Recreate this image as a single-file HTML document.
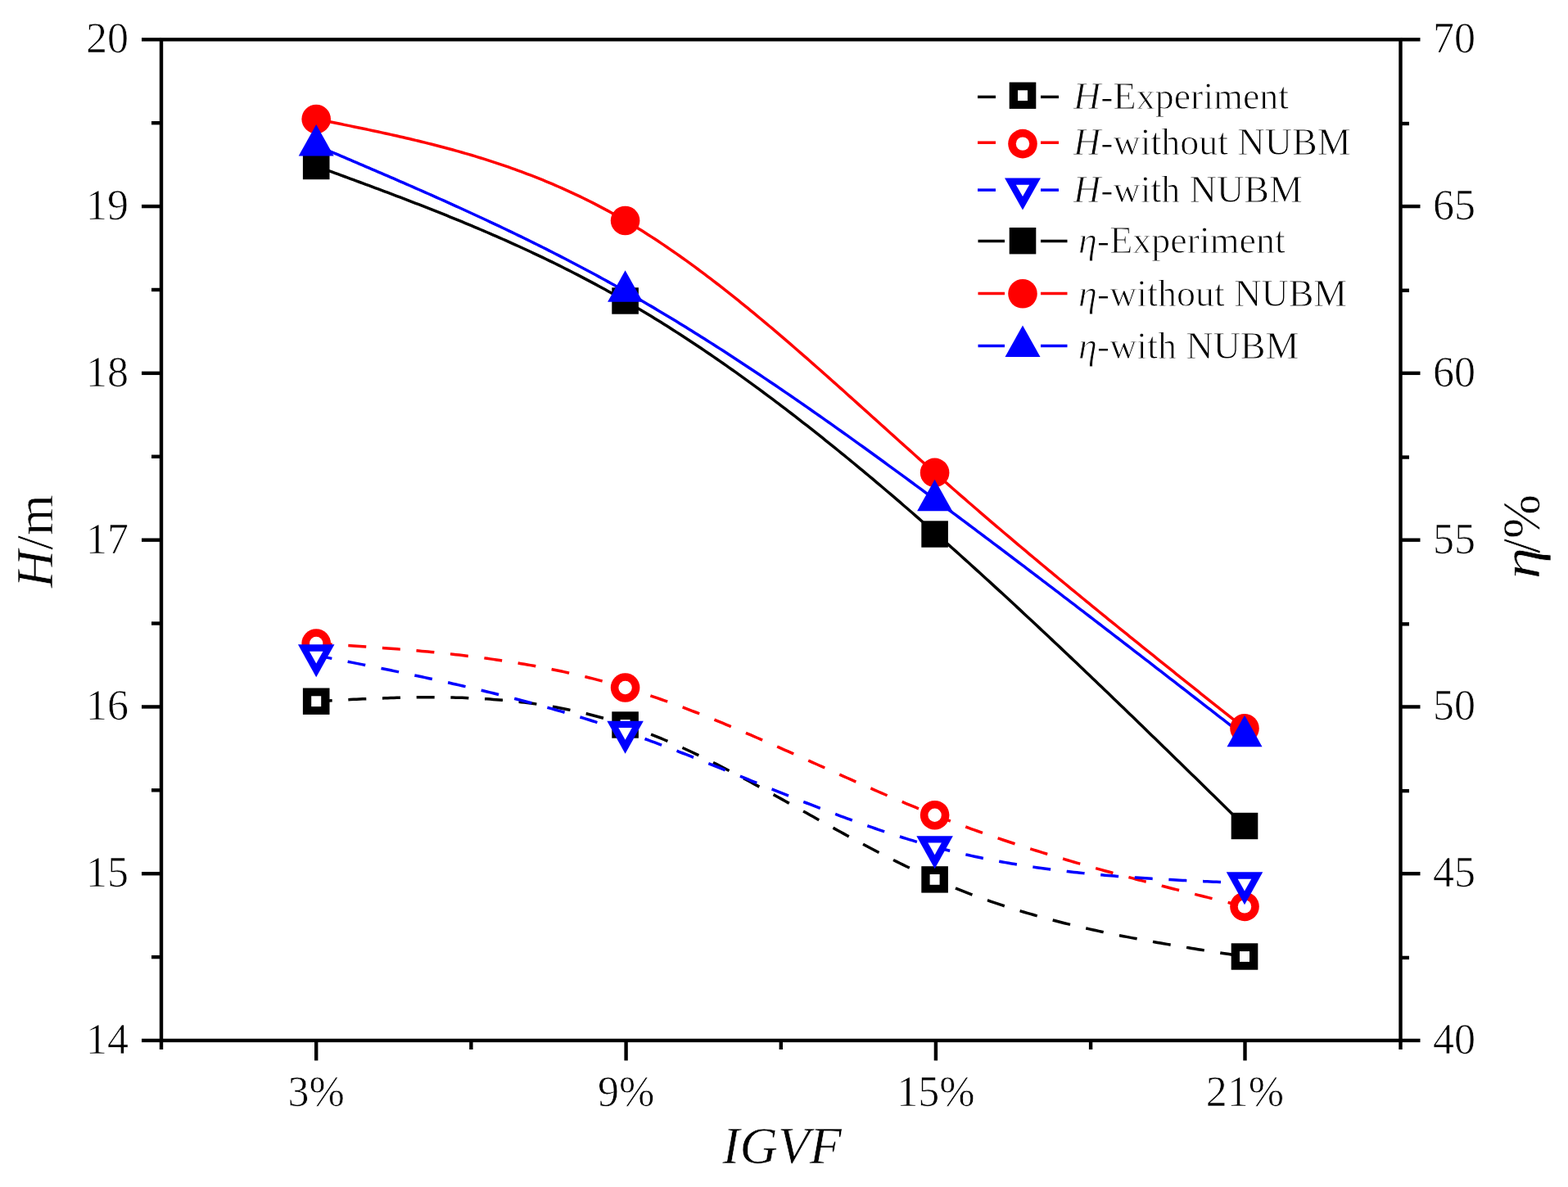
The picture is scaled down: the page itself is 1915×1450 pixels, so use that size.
<!DOCTYPE html><html><head><meta charset="utf-8"><style>html,body{margin:0;padding:0;background:#fff;}svg{display:block;}</style></head><body><svg width="1915" height="1450" viewBox="0 0 1915 1450">
<rect width="1915" height="1450" fill="#fff"/>
<polyline points="386.20,856.70 389.99,856.50 393.78,856.30 397.58,856.10 401.37,855.90 405.16,855.70 408.95,855.50 412.74,855.30 416.54,855.11 420.33,854.92 424.12,854.73 427.91,854.55 431.70,854.36 435.50,854.18 439.29,854.01 443.08,853.84 446.87,853.67 450.66,853.51 454.46,853.36 458.25,853.21 462.04,853.06 465.83,852.92 469.62,852.79 473.42,852.66 477.21,852.54 481.00,852.43 484.79,852.32 488.58,852.23 492.38,852.14 496.17,852.06 499.96,851.98 503.75,851.92 507.54,851.87 511.34,851.82 515.13,851.79 518.92,851.76 522.71,851.75 526.50,851.74 530.29,851.75 534.09,851.77 537.88,851.80 541.67,851.84 545.46,851.90 549.25,851.96 553.05,852.04 556.84,852.14 560.63,852.24 564.42,852.36 568.21,852.50 572.01,852.64 575.80,852.81 579.59,852.98 583.38,853.18 587.17,853.39 590.97,853.61 594.76,853.85 598.55,854.11 602.34,854.38 606.13,854.67 609.93,854.98 613.72,855.30 617.51,855.64 621.30,856.00 625.09,856.38 628.89,856.78 632.68,857.20 636.47,857.64 640.26,858.09 644.05,858.57 647.85,859.06 651.64,859.58 655.43,860.12 659.22,860.68 663.01,861.26 666.81,861.86 670.60,862.48 674.39,863.13 678.18,863.80 681.97,864.49 685.77,865.20 689.56,865.94 693.35,866.71 697.14,867.49 700.93,868.30 704.73,869.14 708.52,870.00 712.31,870.88 716.10,871.80 719.89,872.73 723.69,873.70 727.48,874.69 731.27,875.70 735.06,876.75 738.85,877.82 742.65,878.92 746.44,880.04 750.23,881.20 754.02,882.38 757.81,883.59 761.61,884.84 765.40,886.11 769.19,887.41 772.98,888.74 776.77,890.09 780.57,891.48 784.36,892.89 788.15,894.33 791.94,895.80 795.73,897.29 799.53,898.81 803.32,900.35 807.11,901.91 810.90,903.50 814.69,905.11 818.48,906.75 822.28,908.41 826.07,910.09 829.86,911.79 833.65,913.51 837.44,915.25 841.24,917.01 845.03,918.79 848.82,920.59 852.61,922.40 856.40,924.24 860.20,926.09 863.99,927.95 867.78,929.84 871.57,931.74 875.36,933.65 879.16,935.58 882.95,937.52 886.74,939.48 890.53,941.44 894.32,943.42 898.12,945.42 901.91,947.42 905.70,949.44 909.49,951.46 913.28,953.50 917.08,955.54 920.87,957.59 924.66,959.65 928.45,961.72 932.24,963.80 936.04,965.88 939.83,967.97 943.62,970.07 947.41,972.17 951.20,974.27 955.00,976.38 958.79,978.49 962.58,980.61 966.37,982.72 970.16,984.84 973.96,986.97 977.75,989.09 981.54,991.21 985.33,993.34 989.12,995.46 992.92,997.58 996.71,999.70 1000.50,1001.82 1004.29,1003.93 1008.08,1006.05 1011.88,1008.16 1015.67,1010.26 1019.46,1012.36 1023.25,1014.46 1027.04,1016.55 1030.84,1018.63 1034.63,1020.70 1038.42,1022.77 1042.21,1024.84 1046.00,1026.89 1049.80,1028.93 1053.59,1030.97 1057.38,1033.00 1061.17,1035.01 1064.96,1037.02 1068.76,1039.01 1072.55,1040.99 1076.34,1042.96 1080.13,1044.92 1083.92,1046.86 1087.72,1048.79 1091.51,1050.70 1095.30,1052.60 1099.09,1054.49 1102.88,1056.36 1106.67,1058.21 1110.47,1060.04 1114.26,1061.86 1118.05,1063.66 1121.84,1065.44 1125.63,1067.20 1129.43,1068.94 1133.22,1070.67 1137.01,1072.37 1140.80,1074.05 1144.59,1075.71 1148.39,1077.35 1152.18,1078.96 1155.97,1080.56 1159.76,1082.13 1163.55,1083.69 1167.35,1085.22 1171.14,1086.73 1174.93,1088.22 1178.72,1089.70 1182.51,1091.15 1186.31,1092.58 1190.10,1094.00 1193.89,1095.40 1197.68,1096.77 1201.47,1098.13 1205.27,1099.47 1209.06,1100.79 1212.85,1102.10 1216.64,1103.39 1220.43,1104.66 1224.23,1105.91 1228.02,1107.14 1231.81,1108.36 1235.60,1109.56 1239.39,1110.75 1243.19,1111.92 1246.98,1113.07 1250.77,1114.21 1254.56,1115.33 1258.35,1116.44 1262.15,1117.53 1265.94,1118.61 1269.73,1119.67 1273.52,1120.72 1277.31,1121.76 1281.11,1122.78 1284.90,1123.78 1288.69,1124.78 1292.48,1125.76 1296.27,1126.72 1300.07,1127.68 1303.86,1128.62 1307.65,1129.55 1311.44,1130.47 1315.23,1131.37 1319.03,1132.27 1322.82,1133.15 1326.61,1134.02 1330.40,1134.88 1334.19,1135.72 1337.99,1136.56 1341.78,1137.39 1345.57,1138.21 1349.36,1139.01 1353.15,1139.81 1356.95,1140.60 1360.74,1141.38 1364.53,1142.15 1368.32,1142.91 1372.11,1143.66 1375.91,1144.40 1379.70,1145.14 1383.49,1145.86 1387.28,1146.58 1391.07,1147.29 1394.86,1148.00 1398.66,1148.69 1402.45,1149.38 1406.24,1150.07 1410.03,1150.74 1413.82,1151.41 1417.62,1152.08 1421.41,1152.74 1425.20,1153.39 1428.99,1154.04 1432.78,1154.68 1436.58,1155.31 1440.37,1155.95 1444.16,1156.57 1447.95,1157.20 1451.74,1157.82 1455.54,1158.43 1459.33,1159.04 1463.12,1159.65 1466.91,1160.26 1470.70,1160.86 1474.50,1161.46 1478.29,1162.05 1482.08,1162.65 1485.87,1163.24 1489.66,1163.83 1493.46,1164.42 1497.25,1165.00 1501.04,1165.59 1504.83,1166.17 1508.62,1166.75 1512.42,1167.34 1516.21,1167.92 1520.00,1168.50" fill="none" stroke="#000000" stroke-width="3.5" stroke-dasharray="22 19.7" stroke-dashoffset="2.5"/>
<polyline points="386.20,786.00 389.99,786.24 393.78,786.48 397.58,786.73 401.37,786.97 405.16,787.21 408.95,787.46 412.74,787.70 416.54,787.95 420.33,788.20 424.12,788.45 427.91,788.70 431.70,788.95 435.50,789.21 439.29,789.46 443.08,789.72 446.87,789.99 450.66,790.25 454.46,790.52 458.25,790.80 462.04,791.07 465.83,791.35 469.62,791.64 473.42,791.92 477.21,792.22 481.00,792.51 484.79,792.81 488.58,793.12 492.38,793.43 496.17,793.74 499.96,794.07 503.75,794.39 507.54,794.72 511.34,795.06 515.13,795.41 518.92,795.76 522.71,796.11 526.50,796.47 530.29,796.84 534.09,797.22 537.88,797.60 541.67,798.00 545.46,798.39 549.25,798.80 553.05,799.21 556.84,799.64 560.63,800.07 564.42,800.51 568.21,800.95 572.01,801.41 575.80,801.87 579.59,802.35 583.38,802.83 587.17,803.32 590.97,803.83 594.76,804.34 598.55,804.86 602.34,805.39 606.13,805.94 609.93,806.49 613.72,807.05 617.51,807.63 621.30,808.22 625.09,808.81 628.89,809.42 632.68,810.04 636.47,810.68 640.26,811.32 644.05,811.98 647.85,812.65 651.64,813.33 655.43,814.02 659.22,814.73 663.01,815.45 666.81,816.19 670.60,816.93 674.39,817.70 678.18,818.47 681.97,819.26 685.77,820.06 689.56,820.88 693.35,821.71 697.14,822.56 700.93,823.42 704.73,824.30 708.52,825.19 712.31,826.10 716.10,827.03 719.89,827.96 723.69,828.92 727.48,829.89 731.27,830.88 735.06,831.89 738.85,832.91 742.65,833.95 746.44,835.00 750.23,836.08 754.02,837.17 757.81,838.27 761.61,839.40 765.40,840.54 769.19,841.71 772.98,842.89 776.77,844.08 780.57,845.30 784.36,846.53 788.15,847.78 791.94,849.04 795.73,850.32 799.53,851.62 803.32,852.93 807.11,854.26 810.90,855.60 814.69,856.95 818.48,858.32 822.28,859.71 826.07,861.10 829.86,862.51 833.65,863.94 837.44,865.37 841.24,866.82 845.03,868.28 848.82,869.75 852.61,871.24 856.40,872.73 860.20,874.24 863.99,875.76 867.78,877.28 871.57,878.82 875.36,880.37 879.16,881.92 882.95,883.49 886.74,885.06 890.53,886.65 894.32,888.24 898.12,889.84 901.91,891.45 905.70,893.06 909.49,894.68 913.28,896.31 917.08,897.95 920.87,899.59 924.66,901.24 928.45,902.89 932.24,904.55 936.04,906.21 939.83,907.88 943.62,909.55 947.41,911.23 951.20,912.91 955.00,914.59 958.79,916.28 962.58,917.97 966.37,919.66 970.16,921.36 973.96,923.06 977.75,924.76 981.54,926.46 985.33,928.16 989.12,929.86 992.92,931.57 996.71,933.27 1000.50,934.98 1004.29,936.68 1008.08,938.38 1011.88,940.09 1015.67,941.79 1019.46,943.49 1023.25,945.19 1027.04,946.88 1030.84,948.58 1034.63,950.27 1038.42,951.96 1042.21,953.64 1046.00,955.33 1049.80,957.00 1053.59,958.68 1057.38,960.35 1061.17,962.01 1064.96,963.67 1068.76,965.33 1072.55,966.98 1076.34,968.62 1080.13,970.26 1083.92,971.89 1087.72,973.51 1091.51,975.13 1095.30,976.74 1099.09,978.34 1102.88,979.94 1106.67,981.53 1110.47,983.10 1114.26,984.67 1118.05,986.23 1121.84,987.78 1125.63,989.32 1129.43,990.86 1133.22,992.38 1137.01,993.89 1140.80,995.39 1144.59,996.87 1148.39,998.35 1152.18,999.82 1155.97,1001.27 1159.76,1002.72 1163.55,1004.15 1167.35,1005.58 1171.14,1006.99 1174.93,1008.39 1178.72,1009.78 1182.51,1011.17 1186.31,1012.54 1190.10,1013.90 1193.89,1015.25 1197.68,1016.60 1201.47,1017.93 1205.27,1019.25 1209.06,1020.57 1212.85,1021.88 1216.64,1023.17 1220.43,1024.46 1224.23,1025.74 1228.02,1027.01 1231.81,1028.27 1235.60,1029.52 1239.39,1030.77 1243.19,1032.00 1246.98,1033.23 1250.77,1034.45 1254.56,1035.66 1258.35,1036.87 1262.15,1038.06 1265.94,1039.25 1269.73,1040.43 1273.52,1041.61 1277.31,1042.77 1281.11,1043.93 1284.90,1045.09 1288.69,1046.23 1292.48,1047.37 1296.27,1048.50 1300.07,1049.63 1303.86,1050.74 1307.65,1051.86 1311.44,1052.96 1315.23,1054.06 1319.03,1055.16 1322.82,1056.24 1326.61,1057.33 1330.40,1058.40 1334.19,1059.47 1337.99,1060.54 1341.78,1061.60 1345.57,1062.65 1349.36,1063.70 1353.15,1064.75 1356.95,1065.79 1360.74,1066.82 1364.53,1067.85 1368.32,1068.87 1372.11,1069.90 1375.91,1070.91 1379.70,1071.92 1383.49,1072.93 1387.28,1073.94 1391.07,1074.94 1394.86,1075.93 1398.66,1076.92 1402.45,1077.91 1406.24,1078.90 1410.03,1079.88 1413.82,1080.86 1417.62,1081.84 1421.41,1082.81 1425.20,1083.78 1428.99,1084.74 1432.78,1085.71 1436.58,1086.67 1440.37,1087.63 1444.16,1088.59 1447.95,1089.54 1451.74,1090.49 1455.54,1091.44 1459.33,1092.39 1463.12,1093.34 1466.91,1094.28 1470.70,1095.23 1474.50,1096.17 1478.29,1097.11 1482.08,1098.05 1485.87,1098.99 1489.66,1099.92 1493.46,1100.86 1497.25,1101.80 1501.04,1102.73 1504.83,1103.67 1508.62,1104.60 1512.42,1105.53 1516.21,1106.47 1520.00,1107.40" fill="none" stroke="#ff0000" stroke-width="3.5" stroke-dasharray="22 19.7" stroke-dashoffset="2.5"/>
<polyline points="386.20,800.60 389.99,801.35 393.78,802.10 397.58,802.85 401.37,803.60 405.16,804.35 408.95,805.10 412.74,805.85 416.54,806.60 420.33,807.35 424.12,808.11 427.91,808.86 431.70,809.62 435.50,810.37 439.29,811.13 443.08,811.89 446.87,812.66 450.66,813.42 454.46,814.19 458.25,814.95 462.04,815.73 465.83,816.50 469.62,817.27 473.42,818.05 477.21,818.83 481.00,819.61 484.79,820.40 488.58,821.19 492.38,821.98 496.17,822.78 499.96,823.58 503.75,824.38 507.54,825.18 511.34,825.99 515.13,826.81 518.92,827.62 522.71,828.44 526.50,829.27 530.29,830.10 534.09,830.93 537.88,831.77 541.67,832.61 545.46,833.46 549.25,834.31 553.05,835.17 556.84,836.03 560.63,836.90 564.42,837.77 568.21,838.65 572.01,839.54 575.80,840.43 579.59,841.32 583.38,842.22 587.17,843.13 590.97,844.04 594.76,844.96 598.55,845.89 602.34,846.82 606.13,847.76 609.93,848.70 613.72,849.66 617.51,850.61 621.30,851.58 625.09,852.55 628.89,853.53 632.68,854.52 636.47,855.52 640.26,856.52 644.05,857.53 647.85,858.55 651.64,859.58 655.43,860.61 659.22,861.65 663.01,862.70 666.81,863.76 670.60,864.83 674.39,865.91 678.18,866.99 681.97,868.09 685.77,869.19 689.56,870.30 693.35,871.42 697.14,872.55 700.93,873.69 704.73,874.84 708.52,876.00 712.31,877.17 716.10,878.35 719.89,879.54 723.69,880.74 727.48,881.95 731.27,883.17 735.06,884.40 738.85,885.64 742.65,886.89 746.44,888.15 750.23,889.42 754.02,890.71 757.81,892.00 761.61,893.31 765.40,894.63 769.19,895.96 772.98,897.30 776.77,898.65 780.57,900.01 784.36,901.38 788.15,902.76 791.94,904.15 795.73,905.55 799.53,906.96 803.32,908.38 807.11,909.81 810.90,911.24 814.69,912.68 818.48,914.13 822.28,915.59 826.07,917.05 829.86,918.52 833.65,920.00 837.44,921.48 841.24,922.97 845.03,924.47 848.82,925.97 852.61,927.47 856.40,928.98 860.20,930.50 863.99,932.01 867.78,933.53 871.57,935.06 875.36,936.59 879.16,938.12 882.95,939.65 886.74,941.19 890.53,942.73 894.32,944.27 898.12,945.81 901.91,947.35 905.70,948.90 909.49,950.44 913.28,951.98 917.08,953.53 920.87,955.07 924.66,956.62 928.45,958.16 932.24,959.70 936.04,961.24 939.83,962.78 943.62,964.32 947.41,965.85 951.20,967.38 955.00,968.91 958.79,970.44 962.58,971.96 966.37,973.48 970.16,974.99 973.96,976.50 977.75,978.01 981.54,979.51 985.33,981.00 989.12,982.49 992.92,983.98 996.71,985.46 1000.50,986.93 1004.29,988.39 1008.08,989.85 1011.88,991.30 1015.67,992.75 1019.46,994.18 1023.25,995.61 1027.04,997.03 1030.84,998.44 1034.63,999.84 1038.42,1001.23 1042.21,1002.62 1046.00,1003.99 1049.80,1005.35 1053.59,1006.71 1057.38,1008.05 1061.17,1009.38 1064.96,1010.70 1068.76,1012.01 1072.55,1013.30 1076.34,1014.59 1080.13,1015.86 1083.92,1017.12 1087.72,1018.37 1091.51,1019.60 1095.30,1020.82 1099.09,1022.02 1102.88,1023.21 1106.67,1024.39 1110.47,1025.55 1114.26,1026.70 1118.05,1027.83 1121.84,1028.95 1125.63,1030.05 1129.43,1031.13 1133.22,1032.20 1137.01,1033.25 1140.80,1034.28 1144.59,1035.30 1148.39,1036.30 1152.18,1037.28 1155.97,1038.25 1159.76,1039.20 1163.55,1040.13 1167.35,1041.04 1171.14,1041.94 1174.93,1042.83 1178.72,1043.69 1182.51,1044.55 1186.31,1045.38 1190.10,1046.20 1193.89,1047.01 1197.68,1047.80 1201.47,1048.58 1205.27,1049.34 1209.06,1050.08 1212.85,1050.82 1216.64,1051.54 1220.43,1052.24 1224.23,1052.93 1228.02,1053.61 1231.81,1054.27 1235.60,1054.92 1239.39,1055.56 1243.19,1056.18 1246.98,1056.80 1250.77,1057.39 1254.56,1057.98 1258.35,1058.56 1262.15,1059.12 1265.94,1059.67 1269.73,1060.21 1273.52,1060.74 1277.31,1061.25 1281.11,1061.76 1284.90,1062.25 1288.69,1062.74 1292.48,1063.21 1296.27,1063.67 1300.07,1064.12 1303.86,1064.56 1307.65,1065.00 1311.44,1065.42 1315.23,1065.83 1319.03,1066.23 1322.82,1066.63 1326.61,1067.01 1330.40,1067.39 1334.19,1067.75 1337.99,1068.11 1341.78,1068.46 1345.57,1068.81 1349.36,1069.14 1353.15,1069.47 1356.95,1069.78 1360.74,1070.10 1364.53,1070.40 1368.32,1070.70 1372.11,1070.99 1375.91,1071.27 1379.70,1071.54 1383.49,1071.81 1387.28,1072.08 1391.07,1072.34 1394.86,1072.59 1398.66,1072.83 1402.45,1073.07 1406.24,1073.31 1410.03,1073.54 1413.82,1073.76 1417.62,1073.98 1421.41,1074.20 1425.20,1074.41 1428.99,1074.61 1432.78,1074.81 1436.58,1075.01 1440.37,1075.21 1444.16,1075.40 1447.95,1075.58 1451.74,1075.77 1455.54,1075.95 1459.33,1076.12 1463.12,1076.30 1466.91,1076.47 1470.70,1076.64 1474.50,1076.81 1478.29,1076.97 1482.08,1077.13 1485.87,1077.30 1489.66,1077.46 1493.46,1077.61 1497.25,1077.77 1501.04,1077.93 1504.83,1078.08 1508.62,1078.24 1512.42,1078.39 1516.21,1078.55 1520.00,1078.70" fill="none" stroke="#0000ff" stroke-width="3.5" stroke-dasharray="22 19.7" stroke-dashoffset="2.5"/>
<rect x="369.90" y="840.50" width="32.6" height="32.4" fill="#000000"/><rect x="380.20" y="850.30" width="12.0" height="12.8" fill="#fff"/>
<rect x="747.30" y="869.30" width="32.6" height="32.4" fill="#000000"/><rect x="757.60" y="879.10" width="12.0" height="12.8" fill="#fff"/>
<rect x="1125.30" y="1058.20" width="32.6" height="32.4" fill="#000000"/><rect x="1135.60" y="1068.00" width="12.0" height="12.8" fill="#fff"/>
<rect x="1503.70" y="1152.30" width="32.6" height="32.4" fill="#000000"/><rect x="1514.00" y="1162.10" width="12.0" height="12.8" fill="#fff"/>
<circle cx="386.20" cy="786.00" r="17.8" fill="#ff0000"/><circle cx="386.20" cy="786.00" r="8.2" fill="#fff"/>
<circle cx="763.60" cy="840.00" r="17.8" fill="#ff0000"/><circle cx="763.60" cy="840.00" r="8.2" fill="#fff"/>
<circle cx="1141.60" cy="995.70" r="17.8" fill="#ff0000"/><circle cx="1141.60" cy="995.70" r="8.2" fill="#fff"/>
<circle cx="1520.00" cy="1107.40" r="17.8" fill="#ff0000"/><circle cx="1520.00" cy="1107.40" r="8.2" fill="#fff"/>
<polygon points="386.20,827.27 408.45,787.27 363.95,787.27" fill="#0000ff"/><polygon points="386.20,810.47 394.43,795.67 377.97,795.67" fill="#fff"/>
<polygon points="763.60,920.67 785.85,880.67 741.35,880.67" fill="#0000ff"/><polygon points="763.60,903.87 771.83,889.07 755.37,889.07" fill="#fff"/>
<polygon points="1141.60,1061.17 1163.85,1021.17 1119.35,1021.17" fill="#0000ff"/><polygon points="1141.60,1044.37 1149.83,1029.57 1133.37,1029.57" fill="#fff"/>
<polygon points="1520.00,1105.37 1542.25,1065.37 1497.75,1065.37" fill="#0000ff"/><polygon points="1520.00,1088.57 1528.23,1073.77 1511.77,1073.77" fill="#fff"/>
<polyline points="386.20,203.00 389.99,204.39 393.78,205.77 397.58,207.16 401.37,208.55 405.16,209.94 408.95,211.33 412.74,212.72 416.54,214.11 420.33,215.50 424.12,216.90 427.91,218.29 431.70,219.69 435.50,221.09 439.29,222.49 443.08,223.89 446.87,225.30 450.66,226.71 454.46,228.12 458.25,229.54 462.04,230.95 465.83,232.37 469.62,233.80 473.42,235.23 477.21,236.66 481.00,238.09 484.79,239.53 488.58,240.98 492.38,242.42 496.17,243.88 499.96,245.33 503.75,246.80 507.54,248.26 511.34,249.73 515.13,251.21 518.92,252.69 522.71,254.18 526.50,255.68 530.29,257.18 534.09,258.68 537.88,260.20 541.67,261.72 545.46,263.24 549.25,264.77 553.05,266.31 556.84,267.86 560.63,269.41 564.42,270.97 568.21,272.54 572.01,274.12 575.80,275.70 579.59,277.30 583.38,278.90 587.17,280.50 590.97,282.12 594.76,283.75 598.55,285.38 602.34,287.03 606.13,288.68 609.93,290.34 613.72,292.02 617.51,293.70 621.30,295.39 625.09,297.09 628.89,298.80 632.68,300.52 636.47,302.26 640.26,304.00 644.05,305.75 647.85,307.52 651.64,309.29 655.43,311.08 659.22,312.88 663.01,314.69 666.81,316.51 670.60,318.35 674.39,320.19 678.18,322.05 681.97,323.92 685.77,325.80 689.56,327.70 693.35,329.61 697.14,331.53 700.93,333.46 704.73,335.41 708.52,337.38 712.31,339.35 716.10,341.34 719.89,343.34 723.69,345.36 727.48,347.39 731.27,349.44 735.06,351.50 738.85,353.58 742.65,355.67 746.44,357.77 750.23,359.90 754.02,362.03 757.81,364.18 761.61,366.35 765.40,368.54 769.19,370.74 772.98,372.95 776.77,375.19 780.57,377.43 784.36,379.70 788.15,381.98 791.94,384.27 795.73,386.58 799.53,388.90 803.32,391.24 807.11,393.60 810.90,395.97 814.69,398.35 818.48,400.75 822.28,403.17 826.07,405.60 829.86,408.04 833.65,410.50 837.44,412.97 841.24,415.46 845.03,417.96 848.82,420.48 852.61,423.01 856.40,425.55 860.20,428.11 863.99,430.68 867.78,433.27 871.57,435.87 875.36,438.48 879.16,441.10 882.95,443.74 886.74,446.40 890.53,449.06 894.32,451.74 898.12,454.43 901.91,457.14 905.70,459.85 909.49,462.59 913.28,465.33 917.08,468.08 920.87,470.85 924.66,473.63 928.45,476.43 932.24,479.23 936.04,482.05 939.83,484.88 943.62,487.72 947.41,490.57 951.20,493.44 955.00,496.31 958.79,499.20 962.58,502.10 966.37,505.01 970.16,507.93 973.96,510.87 977.75,513.81 981.54,516.77 985.33,519.74 989.12,522.71 992.92,525.70 996.71,528.70 1000.50,531.71 1004.29,534.73 1008.08,537.77 1011.88,540.81 1015.67,543.86 1019.46,546.92 1023.25,550.00 1027.04,553.08 1030.84,556.17 1034.63,559.27 1038.42,562.38 1042.21,565.51 1046.00,568.64 1049.80,571.78 1053.59,574.93 1057.38,578.09 1061.17,581.26 1064.96,584.44 1068.76,587.62 1072.55,590.82 1076.34,594.03 1080.13,597.24 1083.92,600.46 1087.72,603.69 1091.51,606.93 1095.30,610.18 1099.09,613.44 1102.88,616.71 1106.67,619.98 1110.47,623.26 1114.26,626.55 1118.05,629.85 1121.84,633.15 1125.63,636.47 1129.43,639.79 1133.22,643.12 1137.01,646.45 1140.80,649.80 1144.59,653.15 1148.39,656.51 1152.18,659.87 1155.97,663.24 1159.76,666.62 1163.55,670.01 1167.35,673.40 1171.14,676.80 1174.93,680.21 1178.72,683.62 1182.51,687.04 1186.31,690.47 1190.10,693.90 1193.89,697.34 1197.68,700.79 1201.47,704.24 1205.27,707.70 1209.06,711.16 1212.85,714.64 1216.64,718.11 1220.43,721.59 1224.23,725.08 1228.02,728.58 1231.81,732.08 1235.60,735.58 1239.39,739.09 1243.19,742.61 1246.98,746.13 1250.77,749.66 1254.56,753.19 1258.35,756.72 1262.15,760.27 1265.94,763.81 1269.73,767.37 1273.52,770.92 1277.31,774.48 1281.11,778.05 1284.90,781.62 1288.69,785.20 1292.48,788.78 1296.27,792.36 1300.07,795.95 1303.86,799.54 1307.65,803.14 1311.44,806.74 1315.23,810.35 1319.03,813.96 1322.82,817.57 1326.61,821.19 1330.40,824.81 1334.19,828.43 1337.99,832.06 1341.78,835.69 1345.57,839.33 1349.36,842.97 1353.15,846.61 1356.95,850.25 1360.74,853.90 1364.53,857.55 1368.32,861.21 1372.11,864.86 1375.91,868.52 1379.70,872.19 1383.49,875.85 1387.28,879.52 1391.07,883.19 1394.86,886.86 1398.66,890.54 1402.45,894.22 1406.24,897.90 1410.03,901.58 1413.82,905.26 1417.62,908.95 1421.41,912.64 1425.20,916.33 1428.99,920.02 1432.78,923.72 1436.58,927.41 1440.37,931.11 1444.16,934.81 1447.95,938.51 1451.74,942.21 1455.54,945.91 1459.33,949.62 1463.12,953.32 1466.91,957.03 1470.70,960.74 1474.50,964.45 1478.29,968.16 1482.08,971.87 1485.87,975.58 1489.66,979.29 1493.46,983.00 1497.25,986.72 1501.04,990.43 1504.83,994.14 1508.62,997.86 1512.42,1001.57 1516.21,1005.29 1520.00,1009.00" fill="none" stroke="#000000" stroke-width="3.5"/>
<polyline points="386.20,145.50 389.99,146.26 393.78,147.02 397.58,147.77 401.37,148.53 405.16,149.29 408.95,150.06 412.74,150.82 416.54,151.59 420.33,152.35 424.12,153.13 427.91,153.90 431.70,154.68 435.50,155.46 439.29,156.24 443.08,157.03 446.87,157.82 450.66,158.62 454.46,159.43 458.25,160.23 462.04,161.05 465.83,161.87 469.62,162.69 473.42,163.53 477.21,164.36 481.00,165.21 484.79,166.07 488.58,166.93 492.38,167.80 496.17,168.67 499.96,169.56 503.75,170.46 507.54,171.36 511.34,172.27 515.13,173.20 518.92,174.13 522.71,175.08 526.50,176.03 530.29,177.00 534.09,177.97 537.88,178.96 541.67,179.96 545.46,180.97 549.25,182.00 553.05,183.04 556.84,184.09 560.63,185.15 564.42,186.23 568.21,187.32 572.01,188.42 575.80,189.54 579.59,190.68 583.38,191.83 587.17,192.99 590.97,194.17 594.76,195.37 598.55,196.58 602.34,197.81 606.13,199.06 609.93,200.32 613.72,201.61 617.51,202.90 621.30,204.22 625.09,205.56 628.89,206.91 632.68,208.28 636.47,209.68 640.26,211.09 644.05,212.52 647.85,213.97 651.64,215.44 655.43,216.94 659.22,218.45 663.01,219.98 666.81,221.54 670.60,223.12 674.39,224.72 678.18,226.34 681.97,227.99 685.77,229.66 689.56,231.35 693.35,233.07 697.14,234.81 700.93,236.57 704.73,238.36 708.52,240.17 712.31,242.01 716.10,243.87 719.89,245.76 723.69,247.68 727.48,249.62 731.27,251.59 735.06,253.59 738.85,255.61 742.65,257.66 746.44,259.74 750.23,261.84 754.02,263.98 757.81,266.14 761.61,268.34 765.40,270.56 769.19,272.81 772.98,275.09 776.77,277.40 780.57,279.73 784.36,282.10 788.15,284.49 791.94,286.91 795.73,289.35 799.53,291.82 803.32,294.32 807.11,296.85 810.90,299.40 814.69,301.97 818.48,304.57 822.28,307.19 826.07,309.84 829.86,312.51 833.65,315.20 837.44,317.91 841.24,320.65 845.03,323.41 848.82,326.19 852.61,329.00 856.40,331.82 860.20,334.67 863.99,337.53 867.78,340.41 871.57,343.32 875.36,346.24 879.16,349.18 882.95,352.14 886.74,355.12 890.53,358.12 894.32,361.13 898.12,364.16 901.91,367.21 905.70,370.27 909.49,373.35 913.28,376.44 917.08,379.55 920.87,382.68 924.66,385.81 928.45,388.97 932.24,392.13 936.04,395.31 939.83,398.50 943.62,401.71 947.41,404.93 951.20,408.15 955.00,411.39 958.79,414.65 962.58,417.91 966.37,421.18 970.16,424.46 973.96,427.76 977.75,431.06 981.54,434.37 985.33,437.69 989.12,441.02 992.92,444.35 996.71,447.69 1000.50,451.04 1004.29,454.40 1008.08,457.76 1011.88,461.13 1015.67,464.51 1019.46,467.89 1023.25,471.27 1027.04,474.66 1030.84,478.06 1034.63,481.46 1038.42,484.86 1042.21,488.26 1046.00,491.67 1049.80,495.08 1053.59,498.49 1057.38,501.90 1061.17,505.32 1064.96,508.73 1068.76,512.15 1072.55,515.57 1076.34,518.98 1080.13,522.40 1083.92,525.81 1087.72,529.23 1091.51,532.64 1095.30,536.05 1099.09,539.46 1102.88,542.87 1106.67,546.27 1110.47,549.67 1114.26,553.06 1118.05,556.45 1121.84,559.84 1125.63,563.22 1129.43,566.60 1133.22,569.97 1137.01,573.34 1140.80,576.69 1144.59,580.05 1148.39,583.39 1152.18,586.73 1155.97,590.06 1159.76,593.39 1163.55,596.71 1167.35,600.02 1171.14,603.33 1174.93,606.63 1178.72,609.93 1182.51,613.21 1186.31,616.50 1190.10,619.77 1193.89,623.04 1197.68,626.31 1201.47,629.57 1205.27,632.82 1209.06,636.07 1212.85,639.31 1216.64,642.55 1220.43,645.78 1224.23,649.01 1228.02,652.23 1231.81,655.45 1235.60,658.66 1239.39,661.86 1243.19,665.06 1246.98,668.26 1250.77,671.45 1254.56,674.64 1258.35,677.82 1262.15,680.99 1265.94,684.17 1269.73,687.33 1273.52,690.50 1277.31,693.66 1281.11,696.81 1284.90,699.96 1288.69,703.11 1292.48,706.25 1296.27,709.39 1300.07,712.52 1303.86,715.65 1307.65,718.78 1311.44,721.90 1315.23,725.02 1319.03,728.14 1322.82,731.25 1326.61,734.36 1330.40,737.46 1334.19,740.56 1337.99,743.66 1341.78,746.75 1345.57,749.85 1349.36,752.93 1353.15,756.02 1356.95,759.10 1360.74,762.18 1364.53,765.26 1368.32,768.33 1372.11,771.40 1375.91,774.47 1379.70,777.54 1383.49,780.60 1387.28,783.66 1391.07,786.72 1394.86,789.78 1398.66,792.83 1402.45,795.88 1406.24,798.94 1410.03,801.98 1413.82,805.03 1417.62,808.07 1421.41,811.12 1425.20,814.16 1428.99,817.20 1432.78,820.23 1436.58,823.27 1440.37,826.30 1444.16,829.34 1447.95,832.37 1451.74,835.40 1455.54,838.43 1459.33,841.45 1463.12,844.48 1466.91,847.51 1470.70,850.53 1474.50,853.56 1478.29,856.58 1482.08,859.60 1485.87,862.62 1489.66,865.64 1493.46,868.67 1497.25,871.69 1501.04,874.70 1504.83,877.72 1508.62,880.74 1512.42,883.76 1516.21,886.78 1520.00,889.80" fill="none" stroke="#ff0000" stroke-width="3.5"/>
<polyline points="386.20,177.70 389.99,179.31 393.78,180.92 397.58,182.53 401.37,184.14 405.16,185.75 408.95,187.36 412.74,188.98 416.54,190.59 420.33,192.20 424.12,193.82 427.91,195.43 431.70,197.05 435.50,198.67 439.29,200.29 443.08,201.91 446.87,203.54 450.66,205.16 454.46,206.79 458.25,208.42 462.04,210.05 465.83,211.68 469.62,213.31 473.42,214.95 477.21,216.59 481.00,218.23 484.79,219.88 488.58,221.53 492.38,223.18 496.17,224.83 499.96,226.49 503.75,228.15 507.54,229.82 511.34,231.48 515.13,233.15 518.92,234.83 522.71,236.51 526.50,238.19 530.29,239.88 534.09,241.57 537.88,243.26 541.67,244.96 545.46,246.66 549.25,248.37 553.05,250.09 556.84,251.80 560.63,253.53 564.42,255.25 568.21,256.99 572.01,258.72 575.80,260.47 579.59,262.22 583.38,263.97 587.17,265.73 590.97,267.50 594.76,269.27 598.55,271.04 602.34,272.83 606.13,274.62 609.93,276.41 613.72,278.22 617.51,280.03 621.30,281.84 625.09,283.66 628.89,285.49 632.68,287.33 636.47,289.17 640.26,291.02 644.05,292.88 647.85,294.74 651.64,296.62 655.43,298.50 659.22,300.39 663.01,302.28 666.81,304.18 670.60,306.10 674.39,308.02 678.18,309.94 681.97,311.88 685.77,313.83 689.56,315.78 693.35,317.74 697.14,319.71 700.93,321.69 704.73,323.68 708.52,325.68 712.31,327.69 716.10,329.70 719.89,331.73 723.69,333.76 727.48,335.81 731.27,337.87 735.06,339.93 738.85,342.01 742.65,344.09 746.44,346.19 750.23,348.29 754.02,350.41 757.81,352.53 761.61,354.67 765.40,356.82 769.19,358.98 772.98,361.15 776.77,363.33 780.57,365.52 784.36,367.72 788.15,369.93 791.94,372.15 795.73,374.38 799.53,376.63 803.32,378.88 807.11,381.14 810.90,383.41 814.69,385.69 818.48,387.99 822.28,390.29 826.07,392.60 829.86,394.92 833.65,397.25 837.44,399.59 841.24,401.93 845.03,404.29 848.82,406.66 852.61,409.03 856.40,411.41 860.20,413.81 863.99,416.21 867.78,418.62 871.57,421.04 875.36,423.46 879.16,425.90 882.95,428.34 886.74,430.79 890.53,433.25 894.32,435.72 898.12,438.20 901.91,440.68 905.70,443.17 909.49,445.67 913.28,448.18 917.08,450.69 920.87,453.22 924.66,455.75 928.45,458.28 932.24,460.83 936.04,463.38 939.83,465.93 943.62,468.50 947.41,471.07 951.20,473.65 955.00,476.23 958.79,478.83 962.58,481.43 966.37,484.03 970.16,486.64 973.96,489.26 977.75,491.88 981.54,494.51 985.33,497.15 989.12,499.79 992.92,502.44 996.71,505.09 1000.50,507.75 1004.29,510.42 1008.08,513.09 1011.88,515.76 1015.67,518.44 1019.46,521.13 1023.25,523.82 1027.04,526.52 1030.84,529.22 1034.63,531.93 1038.42,534.64 1042.21,537.36 1046.00,540.08 1049.80,542.81 1053.59,545.54 1057.38,548.27 1061.17,551.01 1064.96,553.75 1068.76,556.50 1072.55,559.26 1076.34,562.01 1080.13,564.77 1083.92,567.54 1087.72,570.30 1091.51,573.08 1095.30,575.85 1099.09,578.63 1102.88,581.41 1106.67,584.20 1110.47,586.99 1114.26,589.78 1118.05,592.57 1121.84,595.37 1125.63,598.17 1129.43,600.98 1133.22,603.79 1137.01,606.60 1140.80,609.41 1144.59,612.22 1148.39,615.04 1152.18,617.86 1155.97,620.68 1159.76,623.51 1163.55,626.34 1167.35,629.17 1171.14,632.00 1174.93,634.83 1178.72,637.67 1182.51,640.51 1186.31,643.35 1190.10,646.19 1193.89,649.04 1197.68,651.89 1201.47,654.74 1205.27,657.59 1209.06,660.45 1212.85,663.30 1216.64,666.16 1220.43,669.02 1224.23,671.89 1228.02,674.75 1231.81,677.62 1235.60,680.49 1239.39,683.36 1243.19,686.23 1246.98,689.10 1250.77,691.98 1254.56,694.86 1258.35,697.74 1262.15,700.62 1265.94,703.50 1269.73,706.39 1273.52,709.27 1277.31,712.16 1281.11,715.05 1284.90,717.94 1288.69,720.84 1292.48,723.73 1296.27,726.63 1300.07,729.53 1303.86,732.42 1307.65,735.33 1311.44,738.23 1315.23,741.13 1319.03,744.04 1322.82,746.94 1326.61,749.85 1330.40,752.76 1334.19,755.67 1337.99,758.58 1341.78,761.49 1345.57,764.41 1349.36,767.32 1353.15,770.24 1356.95,773.16 1360.74,776.07 1364.53,778.99 1368.32,781.91 1372.11,784.84 1375.91,787.76 1379.70,790.68 1383.49,793.61 1387.28,796.53 1391.07,799.46 1394.86,802.38 1398.66,805.31 1402.45,808.24 1406.24,811.17 1410.03,814.10 1413.82,817.03 1417.62,819.96 1421.41,822.90 1425.20,825.83 1428.99,828.76 1432.78,831.70 1436.58,834.63 1440.37,837.57 1444.16,840.50 1447.95,843.44 1451.74,846.38 1455.54,849.32 1459.33,852.25 1463.12,855.19 1466.91,858.13 1470.70,861.07 1474.50,864.01 1478.29,866.95 1482.08,869.89 1485.87,872.83 1489.66,875.77 1493.46,878.71 1497.25,881.65 1501.04,884.59 1504.83,887.53 1508.62,890.48 1512.42,893.42 1516.21,896.36 1520.00,899.30" fill="none" stroke="#0000ff" stroke-width="3.5"/>
<rect x="369.90" y="186.80" width="32.6" height="32.4" fill="#000000"/>
<rect x="747.30" y="351.30" width="32.6" height="32.4" fill="#000000"/>
<rect x="1125.30" y="636.30" width="32.6" height="32.4" fill="#000000"/>
<rect x="1503.70" y="992.80" width="32.6" height="32.4" fill="#000000"/>
<circle cx="386.20" cy="145.50" r="17.8" fill="#ff0000"/>
<circle cx="763.60" cy="269.50" r="17.8" fill="#ff0000"/>
<circle cx="1141.60" cy="577.40" r="17.8" fill="#ff0000"/>
<circle cx="1520.00" cy="889.80" r="17.8" fill="#ff0000"/>
<polygon points="386.20,152.03 407.70,190.53 364.70,190.53" fill="#0000ff"/>
<polygon points="763.60,330.13 785.10,368.63 742.10,368.63" fill="#0000ff"/>
<polygon points="1141.60,585.83 1163.10,624.33 1120.10,624.33" fill="#0000ff"/>
<polygon points="1520.00,873.63 1541.50,912.13 1498.50,912.13" fill="#0000ff"/>
<g stroke="#000" stroke-width="4.4" fill="none" stroke-linecap="butt">
<rect x="197.0" y="48.3" width="1513.5" height="1222.7"/>
<line x1="173.0" y1="48.30" x2="197.0" y2="48.30"/>
<line x1="1710.5" y1="48.30" x2="1734.5" y2="48.30"/>
<line x1="185.0" y1="150.19" x2="197.0" y2="150.19"/>
<line x1="1710.5" y1="150.99" x2="1721.0" y2="150.99"/>
<line x1="173.0" y1="252.08" x2="197.0" y2="252.08"/>
<line x1="1710.5" y1="252.08" x2="1734.5" y2="252.08"/>
<line x1="185.0" y1="353.97" x2="197.0" y2="353.97"/>
<line x1="1710.5" y1="354.77" x2="1721.0" y2="354.77"/>
<line x1="173.0" y1="455.87" x2="197.0" y2="455.87"/>
<line x1="1710.5" y1="455.87" x2="1734.5" y2="455.87"/>
<line x1="185.0" y1="557.76" x2="197.0" y2="557.76"/>
<line x1="1710.5" y1="558.56" x2="1721.0" y2="558.56"/>
<line x1="173.0" y1="659.65" x2="197.0" y2="659.65"/>
<line x1="1710.5" y1="659.65" x2="1734.5" y2="659.65"/>
<line x1="185.0" y1="761.54" x2="197.0" y2="761.54"/>
<line x1="1710.5" y1="762.34" x2="1721.0" y2="762.34"/>
<line x1="173.0" y1="863.43" x2="197.0" y2="863.43"/>
<line x1="1710.5" y1="863.43" x2="1734.5" y2="863.43"/>
<line x1="185.0" y1="965.32" x2="197.0" y2="965.32"/>
<line x1="1710.5" y1="966.12" x2="1721.0" y2="966.12"/>
<line x1="173.0" y1="1067.22" x2="197.0" y2="1067.22"/>
<line x1="1710.5" y1="1067.22" x2="1734.5" y2="1067.22"/>
<line x1="185.0" y1="1169.11" x2="197.0" y2="1169.11"/>
<line x1="1710.5" y1="1169.91" x2="1721.0" y2="1169.91"/>
<line x1="173.0" y1="1271.00" x2="197.0" y2="1271.00"/>
<line x1="1710.5" y1="1271.00" x2="1734.5" y2="1271.00"/>
<line x1="386.2" y1="1271.0" x2="386.2" y2="1295.5"/>
<line x1="764.6" y1="1271.0" x2="764.6" y2="1295.5"/>
<line x1="1142.9" y1="1271.0" x2="1142.9" y2="1295.5"/>
<line x1="1520.5" y1="1271.0" x2="1520.5" y2="1295.5"/>
<line x1="197.0" y1="1271.0" x2="197.0" y2="1282.0"/>
<line x1="575.4" y1="1271.0" x2="575.4" y2="1282.0"/>
<line x1="953.8" y1="1271.0" x2="953.8" y2="1282.0"/>
<line x1="1332.1" y1="1271.0" x2="1332.1" y2="1282.0"/>
<line x1="1710.5" y1="1271.0" x2="1710.5" y2="1282.0"/>
</g>
<g font-family='"Liberation Serif", "Times New Roman", serif' font-size="52" fill="#000" stroke="#fff" stroke-width="0.7">
<text x="157" y="64.30" text-anchor="end">20</text>
<text x="157" y="268.08" text-anchor="end">19</text>
<text x="157" y="471.87" text-anchor="end">18</text>
<text x="157" y="675.65" text-anchor="end">17</text>
<text x="157" y="879.43" text-anchor="end">16</text>
<text x="157" y="1083.22" text-anchor="end">15</text>
<text x="157" y="1287.00" text-anchor="end">14</text>
<text x="1750" y="64.30">70</text>
<text x="1750" y="268.08">65</text>
<text x="1750" y="471.87">60</text>
<text x="1750" y="675.65">55</text>
<text x="1750" y="879.43">50</text>
<text x="1750" y="1083.22">45</text>
<text x="1750" y="1287.00">40</text>
<text x="386.2" y="1351" text-anchor="middle">3%</text>
<text x="764.6" y="1351" text-anchor="middle">9%</text>
<text x="1142.9" y="1351" text-anchor="middle">15%</text>
<text x="1520.5" y="1351" text-anchor="middle">21%</text>
</g>
<text x="955" y="1421" stroke="#fff" stroke-width="0.6" font-family='"Liberation Serif", "Times New Roman", serif' font-size="64" font-style="italic" text-anchor="middle">IGVF</text>
<text transform="translate(64 661) rotate(-90)" stroke="#fff" stroke-width="0.6" font-family='"Liberation Serif", "Times New Roman", serif' font-size="64" text-anchor="middle"><tspan font-style="italic">H</tspan>/m</text>
<text transform="translate(1880 707.5) rotate(-90) scale(1.2 1)" stroke="#fff" stroke-width="0.6" font-family='"Liberation Serif", "Times New Roman", serif' font-size="65" font-style="italic">η</text>
<text transform="translate(1880 676) rotate(-90)" stroke="#fff" stroke-width="0.6" font-family='"Liberation Serif", "Times New Roman", serif' font-size="65">/%</text>
<line x1="1194" y1="118.4" x2="1216" y2="118.4" stroke="#000000" stroke-width="3.5"/>
<line x1="1271" y1="118.4" x2="1293" y2="118.4" stroke="#000000" stroke-width="3.5"/>
<rect x="1232.70" y="100.50" width="32.6" height="32.4" fill="#000000"/><rect x="1243.00" y="110.30" width="12.0" height="12.8" fill="#fff"/>
<text x="1311" y="133.4" font-family='"Liberation Serif", "Times New Roman", serif' font-size="46" stroke="#fff" stroke-width="0.9"><tspan font-style="italic">H</tspan>-Experiment</text>
<line x1="1194" y1="174.2" x2="1216" y2="174.2" stroke="#ff0000" stroke-width="3.5"/>
<line x1="1271" y1="174.2" x2="1293" y2="174.2" stroke="#ff0000" stroke-width="3.5"/>
<circle cx="1249.00" cy="175.60" r="17.8" fill="#ff0000"/><circle cx="1249.00" cy="175.60" r="8.2" fill="#fff"/>
<text x="1311" y="189.2" font-family='"Liberation Serif", "Times New Roman", serif' font-size="46" stroke="#fff" stroke-width="0.9"><tspan font-style="italic">H</tspan>-without NUBM</text>
<line x1="1194" y1="232.1" x2="1216" y2="232.1" stroke="#0000ff" stroke-width="3.5"/>
<line x1="1271" y1="232.1" x2="1293" y2="232.1" stroke="#0000ff" stroke-width="3.5"/>
<polygon points="1249.00,256.50 1271.00,217.50 1227.00,217.50" fill="#0000ff"/><polygon points="1249.00,240.12 1257.14,225.69 1240.86,225.69" fill="#fff"/>
<text x="1311" y="247.1" font-family='"Liberation Serif", "Times New Roman", serif' font-size="46" stroke="#fff" stroke-width="0.9"><tspan font-style="italic">H</tspan>-with NUBM</text>
<line x1="1194.5" y1="294.4" x2="1227" y2="294.4" stroke="#000000" stroke-width="3.5"/>
<line x1="1271" y1="294.4" x2="1303.5" y2="294.4" stroke="#000000" stroke-width="3.5"/>
<rect x="1232.70" y="278.00" width="32.6" height="32.4" fill="#000000"/>
<text x="1317" y="309.4" font-family='"Liberation Serif", "Times New Roman", serif' font-size="46" stroke="#fff" stroke-width="0.9"><tspan font-style="italic">η</tspan>-Experiment</text>
<line x1="1194.5" y1="358.6" x2="1227" y2="358.6" stroke="#ff0000" stroke-width="3.5"/>
<line x1="1271" y1="358.6" x2="1303.5" y2="358.6" stroke="#ff0000" stroke-width="3.5"/>
<circle cx="1249.00" cy="358.80" r="17.8" fill="#ff0000"/>
<text x="1317" y="373.6" font-family='"Liberation Serif", "Times New Roman", serif' font-size="46" stroke="#fff" stroke-width="0.9"><tspan font-style="italic">η</tspan>-without NUBM</text>
<line x1="1194.5" y1="422.5" x2="1227" y2="422.5" stroke="#0000ff" stroke-width="3.5"/>
<line x1="1271" y1="422.5" x2="1303.5" y2="422.5" stroke="#0000ff" stroke-width="3.5"/>
<polygon points="1249.00,397.53 1270.50,436.03 1227.50,436.03" fill="#0000ff"/>
<text x="1317" y="437.5" font-family='"Liberation Serif", "Times New Roman", serif' font-size="46" stroke="#fff" stroke-width="0.9"><tspan font-style="italic">η</tspan>-with NUBM</text>
</svg></body></html>
